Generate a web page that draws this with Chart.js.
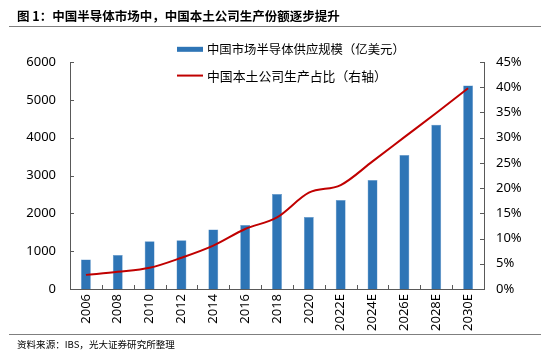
<!DOCTYPE html>
<html>
<head>
<meta charset="utf-8">
<script src="https://cdn.jsdelivr.net/npm/chart.js@4"></script>
<style>
html,body{margin:0;padding:0;background:#fff;}
#wrap{position:relative;width:550px;height:352px;font-family:"Noto Sans CJK SC","Noto Sans",sans-serif;}
#c{position:absolute;left:0;top:0;}
#title{position:absolute;left:17px;top:16px;transform:translateY(-50%);font-size:13px;font-weight:bold;color:#000;white-space:nowrap;line-height:1;}
#rule1{position:absolute;left:9px;top:26px;width:532px;height:0;border-top:1.5px solid #7f7f7f;}
#rule2{position:absolute;left:9px;top:334px;width:532px;height:0;border-top:1px solid #7f7f7f;}
#src{position:absolute;left:17px;top:345px;transform:translateY(-50%);font-size:10px;color:#000;white-space:nowrap;line-height:1;}
.leg{position:absolute;left:177px;color:#000;white-space:nowrap;display:flex;align-items:center;transform:translateY(-50%);line-height:1;}
.sw{display:inline-block;width:26px;margin-right:4px;}
.lt{font-size:12.5px;}
</style>
</head>
<body>
<div id="wrap">
<canvas id="c" width="550" height="352"></canvas>
<div id="title">图 1：中国半导体市场中，中国本土公司生产份额逐步提升</div>
<div id="rule1"></div>
<div class="leg" style="top:49px;"><span class="sw" style="height:5px;background:#2E75B6;"></span><span class="lt" id="l1">中国市场半导体供应规模（亿美元）</span></div>
<div class="leg" style="top:76px;"><span class="sw" style="height:2px;background:#C00000;"></span><span class="lt" id="l2">中国本土公司生产占比（右轴）</span></div>
<div id="rule2"></div>
<div id="src">资料来源：IBS，光大证券研究所整理</div>
</div>
<script>
const categories = ["2006","2008","2010","2012","2014","2016","2018","2020","2022E","2024E","2026E","2028E","2030E"];
const supplyValues = [780, 900, 1260, 1290, 1570, 1690, 2510, 1900, 2350, 2880, 3540, 4340, 5380];
const shareValues = [2.8, 3.4, 4.2, 6.2, 8.6, 11.9, 14.2, 19.1, 20.6, 25.3, 30.1, 34.9, 39.8];
const leftTicks = [0,1000,2000,3000,4000,5000,6000];
const rightTicks = [0,5,10,15,20,25,30,35,40,45];

function fitWidth(id, target) {
  const el = document.getElementById(id);
  const fs = parseFloat(getComputedStyle(el).fontSize);
  const w = el.getBoundingClientRect().width;
  if (w > 0) el.style.fontSize = (fs * target / w) + 'px';
}
fitWidth('title', 323);
fitWidth('l1', 198);
fitWidth('l2', 180);
fitWidth('src', 158);

const axisColor = '#595959';
const tickFont = {family: "'Noto Sans','Noto Sans CJK SC',sans-serif", size: 13};

const inwardTicks = {
  id: 'inwardTicks',
  afterDraw(chart) {
    const ctx = chart.ctx;
    const x = chart.scales.x, y = chart.scales.y, y1 = chart.scales.y1;
    const a = chart.chartArea;
    ctx.save();
    ctx.strokeStyle = axisColor;
    ctx.lineWidth = 1;
    ctx.beginPath();
    ctx.moveTo(a.left + 0.5, a.top); ctx.lineTo(a.left + 0.5, a.bottom + 0.5);
    ctx.lineTo(a.right + 0.5, a.bottom + 0.5); ctx.lineTo(a.right + 0.5, a.top);
    leftTicks.forEach(v => { const p = Math.round(y.getPixelForValue(v)) + 0.5; ctx.moveTo(a.left, p); ctx.lineTo(a.left + 4, p); });
    rightTicks.forEach(v => { const p = Math.round(y1.getPixelForValue(v)) + 0.5; ctx.moveTo(a.right + 1, p); ctx.lineTo(a.right - 4, p); });
    for (let i = 1; i < categories.length; i++) {
      const p = Math.round((x.getPixelForValue(i - 1) + x.getPixelForValue(i)) / 2) + 0.5;
      ctx.moveTo(p, a.bottom); ctx.lineTo(p, a.bottom - 4);
    }
    ctx.stroke();
    ctx.restore();
  }
};

new Chart(document.getElementById('c'), {
  data: {
    labels: categories,
    datasets: [
      {
        type: 'line',
        label: '中国本土公司生产占比（右轴）',
        data: shareValues,
        yAxisID: 'y1',
        borderColor: '#C00000',
        borderWidth: 2,
        pointRadius: 0,
        cubicInterpolationMode: 'monotone',
        order: 0
      },
      {
        type: 'bar',
        label: '中国市场半导体供应规模（亿美元）',
        data: supplyValues,
        yAxisID: 'y',
        backgroundColor: '#2E75B6',
        borderColor: '#5B93C9',
        borderWidth: 0.5,
        categoryPercentage: 1,
        barPercentage: 0.31,
        order: 1
      }
    ]
  },
  options: {
    responsive: false,
    animation: false,
    layout: {padding: {top: 62, left: 0, right: 0, bottom: 0}},
    plugins: {legend: {display: false}, tooltip: {enabled: false}},
    scales: {
      x: {
        offset: true,
        grid: {display: false, drawTicks: false},
        border: {display: false},
        ticks: {minRotation: 90, maxRotation: 90, color: '#000', font: tickFont, padding: 5, autoSkip: false},
        afterFit(s) { s.height = 63; }
      },
      y: {
        position: 'left',
        min: 0, max: 6000,
        afterBuildTicks(s) { s.ticks = leftTicks.map(v => ({value: v})); },
        grid: {display: false, drawTicks: false},
        border: {display: false},
        ticks: {color: '#000', font: tickFont, padding: 14, callback: v => String(v)},
        afterFit(s) { s.width = 70; }
      },
      y1: {
        position: 'right',
        min: 0, max: 45,
        afterBuildTicks(s) { s.ticks = rightTicks.map(v => ({value: v})); },
        grid: {display: false, drawTicks: false},
        border: {display: false},
        ticks: {color: '#000', font: tickFont, padding: 12, callback: v => v + '%'},
        afterFit(s) { s.width = 66; }
      }
    }
  },
  plugins: [inwardTicks]
});
</script>
</body>
</html>
